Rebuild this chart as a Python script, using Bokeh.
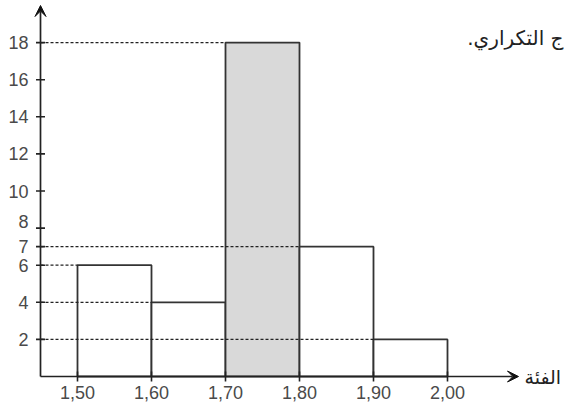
from bokeh.plotting import figure
from bokeh.models import Range1d, Arrow, VeeHead, Label
from bokeh.embed import file_html
from bokeh.resources import INLINE
from bokeh.core.properties import value

# data
edges_left = [1.50, 1.60, 1.70, 1.80, 1.90]
edges_right = [1.60, 1.70, 1.80, 1.90, 2.00]
counts = [6, 4, 18, 7, 2]
highlight = [False, False, True, False, False]
x_ticks = [1.50, 1.60, 1.70, 1.80, 1.90, 2.00]
x_tick_labels = ["1,50", "1,60", "1,70", "1,80", "1,90", "2,00"]
y_ticks = [2, 4, 6, 7, 8, 10, 12, 14, 16, 18]
y_tick_labels = ["2", "4", "6", "7", "8", "10", "12", "14", "16", "18"]
x_axis_title = "الفئة"
top_text = "ج التكراري."

W, H = 564, 412
PX_X, PX_Y = 740.0, 18.55   # pixels per unit
AX_X, AX_Y = 40, 376        # page position of the axes origin
XO, YO = 1.45, 0.0          # data origin of the axes

x_start = XO - AX_X / PX_X
x_end = x_start + W / PX_X
y_start = YO - (H - AX_Y) / PX_Y
y_end = YO + AX_Y / PX_Y

p = figure(width=W, height=H, output_backend="svg", toolbar_location=None,
           x_range=Range1d(x_start, x_end), y_range=Range1d(y_start, y_end),
           x_axis_location=None, y_axis_location=None,
           min_border=0)
p.background_fill_color = "white"
p.border_fill_color = "white"
p.outline_line_color = None
p.xgrid.visible = False
p.ygrid.visible = False

fills = ["#d9d9d9" if h else "white" for h in highlight]
p.quad(left=edges_left, right=edges_right, bottom=YO, top=counts,
       fill_color=fills, line_color="#333333", line_width=1.8)

# dotted guides from y axis to each bar's top-left corner
xs = [[XO, l] for l in edges_left]
ys = [[c, c] for c in counts]
p.multi_line(xs=xs, ys=ys, line_color="#222222", line_width=1.3, line_dash="3 2")

# axes with arrow heads
y_tip = YO + (AX_Y - 5) / PX_Y
x_tip = XO + (518 - AX_X) / PX_X
head = dict(size=11, fill_color="#111111", line_color="#111111")
p.add_layout(Arrow(end=VeeHead(**head), x_start=XO, y_start=YO, x_end=XO, y_end=y_tip,
                   line_color="#222222", line_width=1.7))
p.add_layout(Arrow(end=VeeHead(**head), x_start=XO, y_start=YO, x_end=x_tip, y_end=YO,
                   line_color="#222222", line_width=1.7))

# tick marks
p.scatter(x=[XO] * len(y_ticks), y=y_ticks, marker="dash", size=9,
          line_color="#222222", line_width=1.6)
p.scatter(x=x_ticks, y=[YO] * len(x_ticks), marker="dash", size=10, angle=1.5708,
          line_color="#222222", line_width=1.6)

# tick labels
y_label_shift = [-7 if t == 8 else 0 for t in y_ticks]   # keep "8" clear of "7"
p.text(x=[XO] * len(y_ticks), y=y_ticks, text=y_tick_labels,
       x_offset=-12, y_offset=y_label_shift,
       text_font=value("Liberation Sans"), text_font_size="18px", text_color="#4a4a4a",
       text_align="right", text_baseline="middle")
p.text(x=x_ticks, y=[YO] * len(x_ticks), text=x_tick_labels,
       x_offset=0, y_offset=9,
       text_font=value("Liberation Sans"), text_font_size="18px", text_color="#4a4a4a",
       text_align="center", text_baseline="top")

RLE, PDF = "\u202B", "\u202C"
p.add_layout(Label(x=XO + (524 - AX_X) / PX_X, y=YO, text=RLE + x_axis_title + PDF,
                   text_font="DejaVu Sans", text_font_size="19px", text_color="#222222",
                   text_align="left", text_baseline="middle"))
p.add_layout(Label(x=XO + (563 - AX_X) / PX_X, y=YO + (AX_Y - 37) / PX_Y, text=RLE + top_text + PDF,
                   text_font="DejaVu Sans", text_font_size="20px", text_color="#222222",
                   text_align="right", text_baseline="middle"))

open("out.html", "w").write(file_html(p, INLINE))
